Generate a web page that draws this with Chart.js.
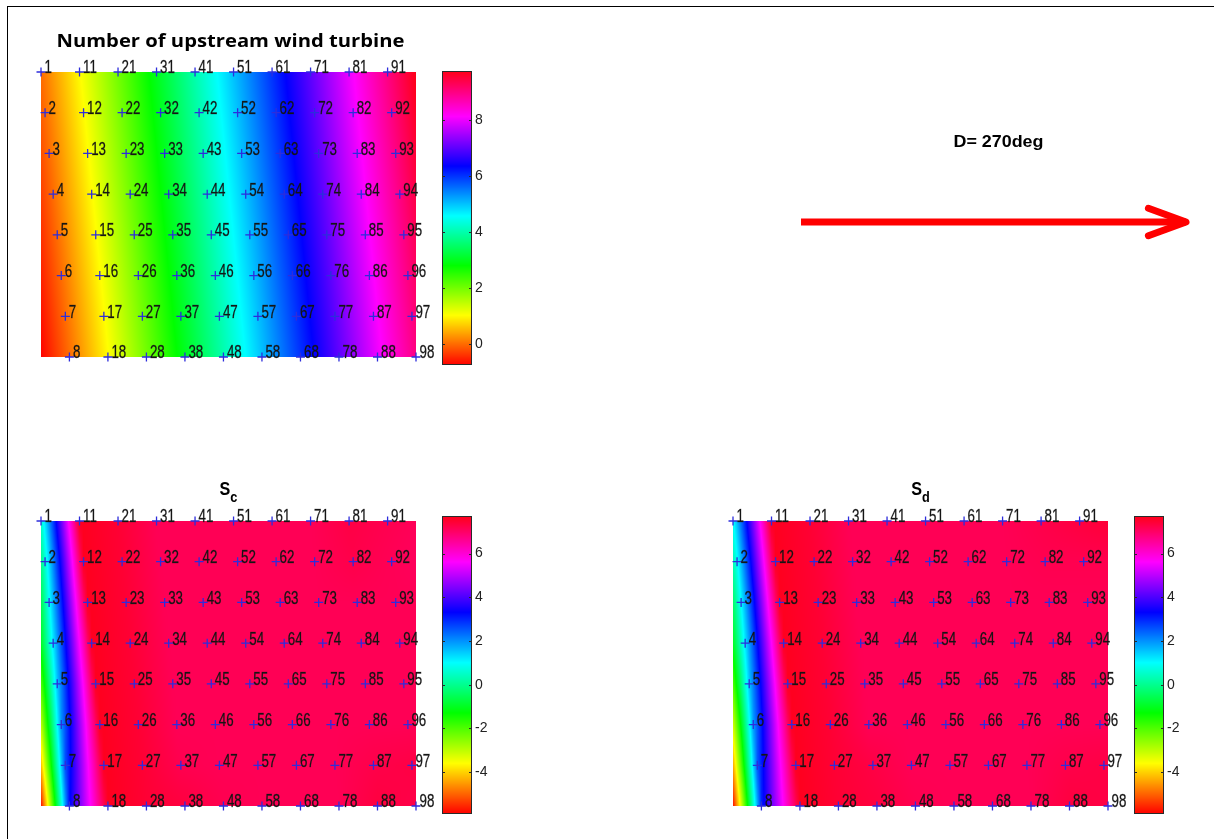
<!DOCTYPE html>
<html>
<head>
<meta charset="utf-8">
<script src="https://cdn.jsdelivr.net/npm/chart.js@4.4.1/dist/chart.umd.min.js"></script>
<style>
  html, body { margin: 0; padding: 0; background: #ffffff; width: 1214px; height: 839px; overflow: hidden; }
  body { position: relative; }
  canvas { position: absolute; }
  #frame { position: absolute; left: 7px; top: 6px; width: 1300px; height: 900px;
           border-top: 1.5px solid #000; border-left: 1.5px solid #000; }
</style>
</head>
<body>
<div id="frame"></div>
<canvas id="panelA" width="440" height="360" style="left:0px; top:20px;"></canvas>
<canvas id="barA" width="60" height="320" style="left:442px; top:60px;"></canvas>
<canvas id="arrow" width="434" height="160" style="left:780px; top:100px;"></canvas>
<canvas id="panelB" width="440" height="360" style="left:0px; top:470px;"></canvas>
<canvas id="barB" width="60" height="320" style="left:442px; top:505px;"></canvas>
<canvas id="panelC" width="440" height="360" style="left:692px; top:470px;"></canvas>
<canvas id="barC" width="60" height="320" style="left:1134px; top:505px;"></canvas>
<script>
// ---------------- DATA ----------------
const windDirectionDeg = 270;
const directionLabel = 'D= 270deg';
const titleUpstream = 'Number of upstream wind turbine';

// turbine ids: tens digit = column number, units digit = row number
const columnNumbers = [0, 1, 2, 3, 4, 5, 6, 7, 8, 9];
const rowNumbers = [1, 2, 3, 4, 5, 6, 7, 8];
// layout (metres): easting of each column, northing of each row, eastward skew of each row
const colEasting = [0, 560, 1120, 1680, 2240, 2800, 3360, 3920, 4480, 5040];
const rowNorthing = [0, -560, -1120, -1680, -2240, -2800, -3360, -3920];
const rowSkew = [0, 59, 118, 177, 236, 295, 354, 413];

// number of upstream turbines, one array per column (rows 1..8)
const upstreamCount = [
  [0, 0, 0, 0, 0, 0, 0, 0],
  [1, 1, 1, 1, 1, 1, 1, 1],
  [2, 2, 2, 2, 2, 2, 2, 2],
  [3, 3, 3, 3, 3, 3, 3, 3],
  [4, 4, 4, 4, 4, 4, 4, 4],
  [5, 5, 5, 5, 5, 5, 5, 5],
  [6, 6, 6, 6, 6, 6, 6, 6],
  [7, 7, 7, 7, 7, 7, 7, 7],
  [8, 8, 8, 8, 8, 8, 8, 8],
  [9, 9, 9, 9, 9, 9, 9, 9]
];
const upstreamRange = [-0.75, 9.73];
const upstreamTicks = [0, 2, 4, 6, 8];

// S_c per column (rows 1..8) and field value along the west edge of the farm
const scValues = [
  [0.5, 0.6, 0.9, 1.2, 1.5, 2.0, 2.6, 3.2],
  [7.65, 7.65, 7.65, 7.65, 7.65, 7.65, 7.65, 7.65],
  [7.45, 7.45, 7.45, 7.45, 7.45, 7.45, 7.45, 7.45],
  [7.15, 7.15, 7.15, 7.15, 7.15, 7.15, 7.2, 7.35],
  [7.15, 7.15, 7.15, 7.15, 7.15, 7.15, 7.15, 7.2],
  [7.15, 7.15, 7.15, 7.15, 7.15, 7.15, 7.15, 7.15],
  [7.15, 7.15, 7.15, 7.15, 7.15, 7.15, 7.15, 7.15],
  [7.15, 7.15, 7.15, 7.15, 7.15, 7.15, 7.15, 7.15],
  [7.3, 7.25, 7.15, 7.15, 7.15, 7.15, 7.25, 7.35],
  [7.2, 7.15, 7.15, 7.15, 7.15, 7.15, 7.3, 7.25]
];
const scWestEdge = [0.5, -0.1, -0.6, -1.0, -2.0, -3.0, -4.2, -5.8];

// S_d per column (rows 1..8) and west edge values
const sdValues = [
  [0.9, 0.9, 1.0, 1.2, 1.5, 1.9, 2.5, 3.0],
  [7.65, 7.65, 7.65, 7.65, 7.65, 7.65, 7.65, 7.65],
  [7.45, 7.45, 7.45, 7.45, 7.45, 7.45, 7.45, 7.45],
  [7.15, 7.15, 7.15, 7.15, 7.15, 7.15, 7.3, 7.35],
  [7.15, 7.15, 7.15, 7.15, 7.15, 7.15, 7.15, 7.2],
  [7.15, 7.15, 7.15, 7.15, 7.15, 7.15, 7.15, 7.15],
  [7.15, 7.15, 7.15, 7.15, 7.15, 7.15, 7.15, 7.15],
  [7.15, 7.15, 7.15, 7.15, 7.15, 7.15, 7.15, 7.15],
  [7.25, 7.2, 7.15, 7.15, 7.15, 7.15, 7.25, 7.35],
  [7.35, 7.2, 7.15, 7.15, 7.15, 7.15, 7.3, 7.3]
];
const sdWestEdge = [0.9, 0.3, -0.4, -1.0, -2.0, -3.2, -4.4, -5.8];

const sRange = [-5.9, 7.7];
const sTicks = [-4, -2, 0, 2, 4, 6];

// ---------------- HELPERS ----------------
const turbinePoints = [];
const turbineIds = [];
columnNumbers.forEach((c, ci) => {
  rowNumbers.forEach((r, ri) => {
    turbinePoints.push({ x: colEasting[ci] + rowSkew[ri], y: rowNorthing[ri] });
    turbineIds.push(String(c * 10 + r));
  });
});
const xMin = Math.min(...turbinePoints.map(p => p.x));
const xMax = Math.max(...turbinePoints.map(p => p.x));
const yMin = Math.min(...rowNorthing);
const yMax = Math.max(...rowNorthing);

function hsvColor(f) {
  f = Math.min(1, Math.max(0, f));
  const h = f * (63 / 64) * 6;
  const i = Math.floor(h) % 6;
  const t = h - Math.floor(h);
  const q = 1 - t;
  let r, g, b;
  switch (i) {
    case 0: r = 1; g = t; b = 0; break;
    case 1: r = q; g = 1; b = 0; break;
    case 2: r = 0; g = 1; b = t; break;
    case 3: r = 0; g = q; b = 1; break;
    case 4: r = t; g = 0; b = 1; break;
    default: r = 1; g = 0; b = q;
  }
  return [Math.round(r * 255), Math.round(g * 255), Math.round(b * 255)];
}

function makeField(values, westEdge) {
  const rows = rowNorthing.map((yn, ri) => ({
    y: yn,
    xs: colEasting.map(e => e + rowSkew[ri]),
    vs: values.map(col => col[ri]),
    edge: westEdge ? westEdge[ri] : null
  }));
  function rowVal(R, x) {
    const xs = R.xs, vs = R.vs, n = xs.length;
    if (x <= xs[0]) {
      if (R.edge !== null && xs[0] > xMin) {
        const t = (x - xMin) / (xs[0] - xMin);
        return R.edge + (vs[0] - R.edge) * t;
      }
      return vs[0] + (vs[1] - vs[0]) * (x - xs[0]) / (xs[1] - xs[0]);
    }
    if (x >= xs[n - 1]) {
      return vs[n - 1] + (vs[n - 1] - vs[n - 2]) * (x - xs[n - 1]) / (xs[n - 1] - xs[n - 2]);
    }
    for (let i = 0; i < n - 1; i++) {
      if (x <= xs[i + 1]) {
        const t = (x - xs[i]) / (xs[i + 1] - xs[i]);
        return vs[i] + (vs[i + 1] - vs[i]) * t;
      }
    }
    return vs[n - 1];
  }
  return function (x, y) {
    let r0 = 0;
    while (r0 < rows.length - 2 && y < rows[r0 + 1].y) r0++;
    const a = rows[r0], b = rows[r0 + 1];
    let t = (a.y - y) / (a.y - b.y);
    t = Math.min(1, Math.max(0, t));
    return rowVal(a, x) * (1 - t) + rowVal(b, x) * t;
  };
}

function heatFieldPlugin(fieldFn, range) {
  return {
    id: 'heatField',
    beforeDatasetsDraw(chart) {
      const a = chart.chartArea, sx = chart.scales.x, sy = chart.scales.y;
      const L = Math.round(a.left), T = Math.round(a.top);
      const W = Math.round(a.right) - L, H = Math.round(a.bottom) - T;
      const ctx = chart.ctx;
      const img = ctx.createImageData(W, H);
      const xv = new Float64Array(W);
      for (let i = 0; i < W; i++) xv[i] = sx.getValueForPixel(L + i + 0.5);
      for (let j = 0; j < H; j++) {
        const yv = sy.getValueForPixel(T + j + 0.5);
        for (let i = 0; i < W; i++) {
          const v = fieldFn(xv[i], yv);
          const c = hsvColor((v - range[0]) / (range[1] - range[0]));
          const k = (j * W + i) * 4;
          img.data[k] = c[0]; img.data[k + 1] = c[1]; img.data[k + 2] = c[2]; img.data[k + 3] = 255;
        }
      }
      ctx.putImageData(img, L, T);
    }
  };
}

function labelPlugin(ids) {
  return {
    id: 'turbineLabels',
    afterDatasetsDraw(chart) {
      const ctx = chart.ctx;
      const meta = chart.getDatasetMeta(0);
      ctx.save();
      ctx.font = '18px "Liberation Sans", Arial, sans-serif';
      ctx.fillStyle = '#151515';
      ctx.strokeStyle = 'rgba(21,21,21,0.55)';
      ctx.lineWidth = 0.5;
      ctx.textAlign = 'left';
      ctx.textBaseline = 'middle';
      meta.data.forEach((pt, i) => {
        ctx.save();
        ctx.translate(pt.x + 3.5, pt.y - 3.5);
        ctx.scale(0.74, 1);
        ctx.fillText(ids[i], 0, 0);
        ctx.strokeText(ids[i], 0, 0);
        ctx.restore();
      });
      ctx.restore();
    }
  };
}

function titlePlugin(main, sub, opts) {
  return {
    id: 'panelTitle',
    afterDraw(chart) {
      const ctx = chart.ctx, a = chart.chartArea;
      const cx = (a.left + a.right) / 2 + (opts.dx || 0);
      const base = a.top - opts.above;
      ctx.save();
      ctx.fillStyle = '#000';
      ctx.textBaseline = 'alphabetic';
      ctx.textAlign = 'left';
      ctx.font = opts.font;
      const w1 = ctx.measureText(main).width;
      let w2 = 0;
      if (sub) { ctx.font = opts.subFont; w2 = ctx.measureText(sub).width; }
      const natural = w1 + w2;
      const sxf = opts.width ? opts.width / natural : (opts.scaleX || 1);
      ctx.translate(cx - natural * sxf / 2, base);
      ctx.scale(sxf, 1);
      ctx.font = opts.font;
      ctx.fillText(main, 0, 0);
      if (sub) { ctx.font = opts.subFont; ctx.fillText(sub, w1, opts.subDrop); }
      ctx.restore();
    }
  };
}

function makePanel(id, values, westEdge, range, title, sub, titleOpts) {
  const field = makeField(values, westEdge);
  return new Chart(document.getElementById(id), {
    type: 'scatter',
    data: {
      datasets: [{
        data: turbinePoints,
        pointStyle: 'cross',
        pointRadius: 4.5,
        pointBorderWidth: 1.3,
        pointBorderColor: 'rgb(45,45,220)',
        pointBackgroundColor: 'rgb(45,45,220)',
        clip: false
      }]
    },
    options: {
      responsive: false, animation: false, devicePixelRatio: 1, events: [],
      layout: { padding: { left: 41, right: 24, top: titleOpts.padTop, bottom: titleOpts.padBottom } },
      plugins: { legend: { display: false }, tooltip: { enabled: false } },
      scales: {
        x: { type: 'linear', display: false, min: xMin, max: xMax },
        y: { type: 'linear', display: false, min: yMin, max: yMax }
      }
    },
    plugins: [heatFieldPlugin(field, range), labelPlugin(turbineIds), titlePlugin(title, sub, titleOpts)]
  });
}

function colorbarPlugin(range) {
  return {
    id: 'colorbarFill',
    beforeDatasetsDraw(chart) {
      const ctx = chart.ctx, a = chart.chartArea, sy = chart.scales.y;
      const L = Math.round(a.left), R = Math.round(a.right);
      const T = Math.round(a.top), B = Math.round(a.bottom);
      for (let y = T; y < B; y++) {
        const v = sy.getValueForPixel(y + 0.5);
        const c = hsvColor((v - range[0]) / (range[1] - range[0]));
        ctx.fillStyle = 'rgb(' + c[0] + ',' + c[1] + ',' + c[2] + ')';
        ctx.fillRect(L, y, R - L, 1);
      }
      ctx.save();
      ctx.strokeStyle = '#2a2a2a';
      ctx.lineWidth = 1;
      ctx.strokeRect(L + 0.5, T + 0.5, R - L - 1, B - T - 1);
      sy.ticks.forEach(t => {
        const y = Math.round(sy.getPixelForValue(t.value)) + 0.5;
        ctx.beginPath();
        ctx.moveTo(L, y); ctx.lineTo(L + 3, y);
        ctx.moveTo(R - 3, y); ctx.lineTo(R, y);
        ctx.stroke();
      });
      ctx.restore();
    }
  };
}

function makeColorbar(id, range, ticks, padTop, padBottom) {
  return new Chart(document.getElementById(id), {
    type: 'scatter',
    data: { datasets: [] },
    options: {
      responsive: false, animation: false, devicePixelRatio: 1, events: [],
      layout: { padding: { left: 0, right: 0, top: padTop, bottom: padBottom } },
      plugins: { legend: { display: false }, tooltip: { enabled: false } },
      scales: {
        x: { type: 'linear', display: false, min: 0, max: 1 },
        y: {
          type: 'linear', position: 'right', min: range[0], max: range[1],
          afterBuildTicks: s => { s.ticks = ticks.map(v => ({ value: v })); },
          afterFit: s => { s.width = 30; },
          grid: { display: false, drawTicks: false, tickLength: 0 },
          border: { display: false },
          ticks: {
            color: '#222',
            font: { family: '"Liberation Sans", Arial, sans-serif', size: 14 },
            padding: 3,
            autoSkip: false,
            callback: v => String(v)
          }
        }
      }
    },
    plugins: [colorbarPlugin(range)]
  });
}

// ---------------- CHARTS ----------------
makePanel('panelA', upstreamCount, null, upstreamRange, titleUpstream, null, {
  padTop: 52, padBottom: 23, above: 25, dx: 2,
  font: 'bold 18px "Open Sans", "DejaVu Sans", sans-serif', width: 348
});
makeColorbar('barA', upstreamRange, upstreamTicks, 8, 15);

makePanel('panelB', scValues, scWestEdge, sRange, 'S', 'c', {
  padTop: 51, padBottom: 24, above: 26, dx: 0,
  font: 'bold 19px "Liberation Sans", Arial, sans-serif',
  subFont: 'bold 15px "Liberation Sans", Arial, sans-serif', subDrop: 7, scaleX: 0.85
});
makeColorbar('barB', sRange, sTicks, 10, 11);

makePanel('panelC', sdValues, sdWestEdge, sRange, 'S', 'd', {
  padTop: 51, padBottom: 24, above: 26, dx: 0,
  font: 'bold 19px "Liberation Sans", Arial, sans-serif',
  subFont: 'bold 15px "Liberation Sans", Arial, sans-serif', subDrop: 7, scaleX: 0.85
});
makeColorbar('barC', sRange, sTicks, 10, 11);

// wind direction arrow
const rad = windDirectionDeg * Math.PI / 180;
const arrowVec = { x: -Math.sin(rad), y: -Math.cos(rad) };
const arrowPlugin = {
  id: 'arrowHead',
  afterDatasetsDraw(chart) {
    const meta = chart.getDatasetMeta(0);
    const p0 = meta.data[0], p1 = meta.data[1];
    const ang = Math.atan2(p1.y - p0.y, p1.x - p0.x);
    const len = 40, spread = 20 * Math.PI / 180;
    const ctx = chart.ctx;
    ctx.save();
    ctx.strokeStyle = '#ff0000';
    ctx.lineWidth = 7;
    ctx.lineCap = 'round';
    ctx.lineJoin = 'round';
    ctx.beginPath();
    ctx.moveTo(p1.x - len * Math.cos(ang - spread), p1.y - len * Math.sin(ang - spread));
    ctx.lineTo(p1.x, p1.y);
    ctx.lineTo(p1.x - len * Math.cos(ang + spread), p1.y - len * Math.sin(ang + spread));
    ctx.stroke();
    ctx.restore();
  },
  afterDraw(chart) {
    const ctx = chart.ctx, a = chart.chartArea;
    ctx.save();
    ctx.fillStyle = '#000';
    ctx.font = 'bold 17px "Liberation Sans", Arial, sans-serif';
    ctx.textBaseline = 'alphabetic';
    ctx.textAlign = 'left';
    const w = ctx.measureText(directionLabel).width;
    const target = 90;
    const cx = (a.left + a.right) / 2 + 5;
    ctx.translate(cx - target / 2, a.top - 43);
    ctx.scale(target / w, 1);
    ctx.fillText(directionLabel, 0, 0);
    ctx.restore();
  }
};
new Chart(document.getElementById('arrow'), {
  type: 'line',
  data: {
    datasets: [{
      data: [{ x: 0, y: 0 }, { x: arrowVec.x, y: arrowVec.y }],
      borderColor: '#ff0000',
      borderWidth: 7,
      borderCapStyle: 'butt',
      pointRadius: 0,
      fill: false,
      clip: false
    }]
  },
  options: {
    responsive: false, animation: false, devicePixelRatio: 1, events: [],
    layout: { padding: { left: 21, right: 28, top: 90, bottom: 6 } },
    plugins: { legend: { display: false }, tooltip: { enabled: false } },
    scales: {
      x: { type: 'linear', display: false, min: 0, max: 1 },
      y: { type: 'linear', display: false, min: -1, max: 1 }
    }
  },
  plugins: [arrowPlugin]
});
</script>
</body>
</html>
